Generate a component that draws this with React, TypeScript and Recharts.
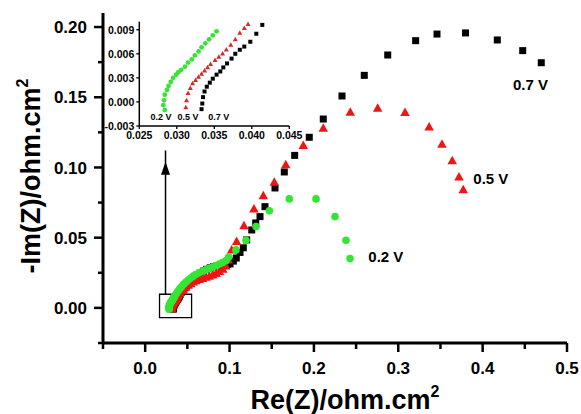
import React from "react";
import {
  Label,
  ReferenceArea,
  ReferenceDot,
  ReferenceLine,
  Scatter,
  ScatterChart,
  XAxis,
  YAxis,
} from "recharts";

const FONT = '"Liberation Sans", Arial, sans-serif';
const W = 581;
const H = 414;

// high-frequency part (shown in the inset and at the start of the main arcs)
const hf02Re = [0.0284, 0.0282, 0.0283, 0.0284, 0.0287, 0.0289, 0.0292, 0.0295, 0.0299, 0.0302, 0.0306, 0.0311, 0.0315, 0.032, 0.0324, 0.0329, 0.0333, 0.0338, 0.0343, 0.0348, 0.0353];
const hf02Im = [-0.001, -0.0004, 0.0002, 0.0009, 0.0015, 0.002, 0.0025, 0.003, 0.0034, 0.0037, 0.004, 0.0044, 0.0049, 0.0053, 0.0058, 0.0063, 0.0068, 0.0073, 0.0078, 0.0083, 0.0088];
const hf05Re = [0.0312, 0.0313, 0.0315, 0.0318, 0.0321, 0.0325, 0.0329, 0.0333, 0.0337, 0.0341, 0.0345, 0.0351, 0.0356, 0.0361, 0.0366, 0.0372, 0.0378, 0.0384, 0.039, 0.0395];
const hf05Im = [-0.0007, 0.0002, 0.0011, 0.0017, 0.0023, 0.0027, 0.0031, 0.0035, 0.0039, 0.0043, 0.0047, 0.0052, 0.0056, 0.006, 0.0065, 0.0071, 0.0078, 0.0086, 0.0092, 0.0097];
const hf07Re = [0.0333, 0.0334, 0.0335, 0.0337, 0.034, 0.0344, 0.0348, 0.0353, 0.0358, 0.0362, 0.0367, 0.0373, 0.0378, 0.0384, 0.039, 0.0398, 0.0406, 0.0414];
const hf07Im = [-0.0009, -0.0002, 0.0006, 0.0013, 0.0019, 0.0024, 0.0029, 0.0034, 0.0038, 0.0043, 0.0048, 0.0054, 0.006, 0.0065, 0.0069, 0.0075, 0.0085, 0.0096];

// rest of the spectra
const lf02Re = [0.037, 0.039, 0.041, 0.043, 0.0455, 0.048, 0.051, 0.054, 0.057, 0.06, 0.064, 0.068, 0.072, 0.076, 0.08, 0.084, 0.088, 0.092, 0.096, 0.099, 0.1076, 0.1195, 0.1314, 0.1472, 0.1708, 0.2025, 0.225, 0.238, 0.2428];
const lf02Im = [0.0103, 0.012, 0.0136, 0.0151, 0.0168, 0.0183, 0.0199, 0.0213, 0.0226, 0.0238, 0.025, 0.0261, 0.0271, 0.0281, 0.0291, 0.0301, 0.0312, 0.0324, 0.0338, 0.0362, 0.0413, 0.0481, 0.058, 0.0692, 0.0776, 0.0776, 0.065, 0.0482, 0.0351];
const lf05Re = [0.041, 0.043, 0.045, 0.048, 0.051, 0.054, 0.057, 0.06, 0.064, 0.068, 0.072, 0.076, 0.08, 0.084, 0.088, 0.092, 0.0955, 0.0985, 0.1025, 0.1084, 0.1171, 0.1289, 0.14, 0.153, 0.1666, 0.1874, 0.2111, 0.2431, 0.2756, 0.308, 0.3366, 0.3518, 0.364, 0.372, 0.377];
const lf05Im = [0.0107, 0.0119, 0.0131, 0.0146, 0.016, 0.0172, 0.0183, 0.0192, 0.0201, 0.0209, 0.0217, 0.0225, 0.0234, 0.0245, 0.0258, 0.0275, 0.0297, 0.034, 0.0412, 0.0472, 0.0585, 0.0704, 0.0797, 0.0894, 0.1018, 0.1155, 0.1279, 0.1393, 0.1421, 0.139, 0.1288, 0.1165, 0.1048, 0.0932, 0.084];
const lf07Re = [0.043, 0.045, 0.047, 0.049, 0.052, 0.055, 0.058, 0.061, 0.065, 0.069, 0.073, 0.077, 0.081, 0.085, 0.089, 0.093, 0.097, 0.1005, 0.1045, 0.108, 0.1124, 0.1163, 0.1203, 0.1263, 0.131, 0.1361, 0.142, 0.1539, 0.1649, 0.1772, 0.1945, 0.2111, 0.2333, 0.2597, 0.2875, 0.3206, 0.3459, 0.3797, 0.4174, 0.4475, 0.4695];
const lf07Im = [0.0112, 0.0128, 0.0143, 0.0158, 0.0178, 0.0197, 0.0214, 0.023, 0.0247, 0.0262, 0.0275, 0.0285, 0.0293, 0.0299, 0.0303, 0.0306, 0.0309, 0.0313, 0.0333, 0.0355, 0.0395, 0.0428, 0.0484, 0.0555, 0.0605, 0.065, 0.0721, 0.0854, 0.0968, 0.1086, 0.1215, 0.1345, 0.1509, 0.1656, 0.1801, 0.1903, 0.195, 0.1958, 0.1908, 0.1832, 0.1746];

// axes
const X_TICKS = [-0.05, 0, 0.05, 0.1, 0.15, 0.2, 0.25, 0.3, 0.35, 0.4, 0.45, 0.5];
const Y_TICKS = [-0.025, 0, 0.025, 0.05, 0.075, 0.1, 0.125, 0.15, 0.175, 0.2];
const TOP_TICKS = [-0.05, 0.005, 0.06, 0.115, 0.17, 0.225, 0.28, 0.335, 0.39, 0.445, 0.5];
const RIGHT_TICKS = [-0.025, -0.0015, 0.022, 0.0455, 0.069, 0.0925, 0.116, 0.1395, 0.163, 0.1865, 0.21];
const INSET_X_TICKS = [0.025, 0.03, 0.035, 0.04, 0.045];
const INSET_Y_TICKS = [-0.003, 0, 0.003, 0.006, 0.009];
const INSET_RIGHT_TICKS = [-0.003, -0.0004, 0.0022, 0.0048, 0.0074, 0.01];

// annotations
const seriesLabels = [
  { text: "0.7 V", x: 0.436, y: 0.1587 },
  { text: "0.5 V", x: 0.389, y: 0.0923 },
  { text: "0.2 V", x: 0.2645, y: 0.0365 },
];
const insetLabels = [
  { text: "0.2 V", x: 0.0279, y: -0.0019 },
  { text: "0.5 V", x: 0.0315, y: -0.0019 },
  { text: "0.7 V", x: 0.0356, y: -0.0018 },
];
const ZOOM_BOX = { x1: 0.017, x2: 0.055, y1: -0.007, y2: 0.0097 };
const ARROW = { x: 0.0241, from: 0.0097, to: 0.1041 };

const BLACK = "#000000";
const RED = "#f01414";
const GREEN = "#33e633";

const pts = (re: number[], im: number[]) => re.map((x, i) => ({ x, y: im[i] }));

const isMultiple = (v: number, step: number) =>
  Math.abs(v / step - Math.round(v / step)) < 1e-6;

const square = (side: number, fill: string) => (p: any) =>
  <rect x={p.cx - side / 2} y={p.cy - side / 2} width={side} height={side} fill={fill} />;
const triangle = (w: number, h: number, fill: string) => (p: any) =>
  <polygon
    points={`${p.cx},${p.cy - h * 0.6} ${p.cx + w / 2},${p.cy + h * 0.4} ${p.cx - w / 2},${p.cy + h * 0.4}`}
    fill={fill}
  />;
const dot = (r: number, fill: string) => (p: any) =>
  <circle cx={p.cx} cy={p.cy} r={r} fill={fill} />;

function LeftTick({ x, y, payload, major = 9, minor = 5, step, digits, size, gap }: any) {
  const m = isMultiple(payload.value, step);
  return (
    <g>
      <line x1={x - (m ? major : minor)} x2={x} y1={y} y2={y} stroke="#000" strokeWidth={size > 12 ? 2.5 : 1.3} />
      {m && (
        <text x={x - gap} y={y} dy="0.36em" textAnchor="end" fontFamily={FONT} fontWeight="bold" fontSize={size} fill="#000">
          {payload.value.toFixed(digits)}
        </text>
      )}
    </g>
  );
}

function BottomTick({ x, y, payload, major = 9, minor = 6, step, digits, size, gap }: any) {
  const m = isMultiple(payload.value, step);
  return (
    <g>
      <line x1={x} x2={x} y1={y} y2={y + (m ? major : minor)} stroke="#000" strokeWidth={size > 12 ? 2.5 : 1.3} />
      {m && (
        <text x={x} y={y + gap} dy="0.36em" textAnchor="middle" fontFamily={FONT} fontWeight="bold" fontSize={size} fill="#000">
          {payload.value.toFixed(digits)}
        </text>
      )}
    </g>
  );
}

function TopTick({ x, y, len, width }: any) {
  return <line x1={x} x2={x} y1={y} y2={y + len} stroke="#000" strokeWidth={width} />;
}

function RightTick({ x, y, len, width }: any) {
  return <line x1={x - len} x2={x} y1={y} y2={y} stroke="#000" strokeWidth={width} />;
}

function XTitle() {
  return (
    <text x={345} y={409} textAnchor="middle" fontFamily={FONT} fontWeight="bold" fontSize={27} fill="#000">
      Re(Z)/ohm.cm<tspan fontSize={16} dy={-12}>2</tspan>
    </text>
  );
}

function YTitle() {
  return (
    <text x={40} y={176} transform="rotate(-90 40 176)" textAnchor="middle" fontFamily={FONT} fontWeight="bold" fontSize={27} fill="#000">
      -Im(Z)/ohm.cm<tspan fontSize={16} dy={-12}>2</tspan>
    </text>
  );
}

const textShape = (text: string, size: number, anchor: "start" | "middle") => (p: any) =>
  <text x={p.cx} y={p.cy} dy="0.36em" textAnchor={anchor} fontFamily={FONT} fontWeight="bold" fontSize={size} fill="#000">
    {text}
  </text>;

const arrowHead = (p: any) =>
  <polygon points={`${p.cx},${p.cy} ${p.cx + 4.5},${p.cy + 13} ${p.cx - 4.5},${p.cy + 13}`} fill="#000" />;

const axisLine = { stroke: "#000", strokeWidth: 3 };
const thinLine = { stroke: "#000", strokeWidth: 1.5 };

export default function App() {
  return (
    <div style={{ position: "absolute", left: 0, top: 0, width: W, height: H, background: "#fff", fontFamily: FONT }}>
      <ScatterChart width={W} height={H} margin={{ top: 13, right: 14, bottom: 0, left: 0 }}>
        <XAxis
          type="number"
          dataKey="x"
          domain={[-0.05, 0.5]}
          ticks={X_TICKS}
          interval={0}
          allowDataOverflow
          height={71}
          tickSize={0}
          tickMargin={0}
          tickLine={false}
          axisLine={axisLine}
          tick={<BottomTick step={0.1} digits={1} size={17} gap={25} />}
        >
          <Label content={<XTitle />} />
        </XAxis>
        <XAxis
          xAxisId="top"
          orientation="top"
          type="number"
          domain={[-0.05, 0.5]}
          ticks={TOP_TICKS}
          interval={0}
          allowDataOverflow
          height={0}
          tickSize={0}
          tickMargin={0}
          tickLine={false}
          axisLine={axisLine}
          tick={<TopTick len={8} width={2.5} />}
        />
        <YAxis
          type="number"
          dataKey="y"
          domain={[-0.025, 0.21]}
          ticks={Y_TICKS}
          interval={0}
          allowDataOverflow
          width={103}
          tickSize={0}
          tickMargin={0}
          tickLine={false}
          axisLine={axisLine}
          tick={<LeftTick step={0.05} digits={2} size={17} gap={16} />}
        >
          <Label content={<YTitle />} />
        </YAxis>
        <YAxis
          yAxisId="right"
          orientation="right"
          type="number"
          domain={[-0.025, 0.21]}
          ticks={RIGHT_TICKS}
          interval={0}
          allowDataOverflow
          width={0}
          tickSize={0}
          tickMargin={0}
          tickLine={false}
          axisLine={axisLine}
          tick={<RightTick len={8} width={2.5} />}
        />

        <ReferenceArea {...ZOOM_BOX} fill="none" fillOpacity={0} stroke="#000" strokeWidth={1.3} />
        <ReferenceLine
          segment={[{ x: ARROW.x, y: ARROW.from }, { x: ARROW.x, y: ARROW.to + 0.008 }]}
          stroke="#000"
          strokeWidth={1.5}
        />
        <ReferenceDot x={ARROW.x} y={ARROW.to} r={0} shape={arrowHead} />

        <Scatter data={pts([...hf07Re, ...lf07Re], [...hf07Im, ...lf07Im])} shape={square(7, BLACK)} isAnimationActive={false} />
        <Scatter data={pts([...hf05Re, ...lf05Re], [...hf05Im, ...lf05Im])} shape={triangle(9.5, 8.5, RED)} isAnimationActive={false} />
        <Scatter data={pts([...hf02Re, ...lf02Re], [...hf02Im, ...lf02Im])} shape={dot(3.8, GREEN)} isAnimationActive={false} />

        {seriesLabels.map((l) => (
          <ReferenceDot key={l.text} x={l.x} y={l.y} r={0} shape={textShape(l.text, 15, "start")} />
        ))}
      </ScatterChart>

      <div style={{ position: "absolute", left: 100, top: 14 }}>
        <ScatterChart width={215} height={140} margin={{ top: 7.7, right: 25.7, bottom: 0, left: 0 }}>
          <XAxis
            type="number"
            dataKey="x"
            domain={[0.025, 0.045]}
            ticks={INSET_X_TICKS}
            interval={0}
            allowDataOverflow
            height={28}
            tickSize={0}
            tickMargin={0}
            tickLine={false}
            axisLine={thinLine}
            tick={<BottomTick step={0.005} digits={3} size={10.5} gap={9} major={3} minor={2} />}
          />
          <XAxis
            xAxisId="top"
            orientation="top"
            type="number"
            domain={[0.025, 0.045]}
            height={0}
            tick={false}
            tickLine={false}
            axisLine={thinLine}
          />
          <YAxis
            type="number"
            dataKey="y"
            domain={[-0.003, 0.01]}
            ticks={INSET_Y_TICKS}
            interval={0}
            allowDataOverflow
            width={39.3}
            tickSize={0}
            tickMargin={0}
            tickLine={false}
            axisLine={thinLine}
            tick={<LeftTick step={0.003} digits={3} size={10.5} gap={5} major={3} minor={2} />}
          />
          <YAxis
            yAxisId="right"
            orientation="right"
            type="number"
            domain={[-0.003, 0.01]}
            ticks={INSET_RIGHT_TICKS}
            interval={0}
            allowDataOverflow
            width={0}
            tickSize={0}
            tickMargin={0}
            tickLine={false}
            axisLine={thinLine}
            tick={<RightTick len={3} width={1.2} />}
          />

          <Scatter data={pts(hf07Re, hf07Im)} shape={square(4, BLACK)} isAnimationActive={false} />
          <Scatter data={pts(hf05Re, hf05Im)} shape={triangle(5, 4.5, "#d42a2a")} isAnimationActive={false} />
          <Scatter data={pts(hf02Re, hf02Im)} shape={dot(2.4, GREEN)} isAnimationActive={false} />

          {insetLabels.map((l) => (
            <ReferenceDot key={l.text} x={l.x} y={l.y} r={0} shape={textShape(l.text, 9, "middle")} />
          ))}
        </ScatterChart>
      </div>
    </div>
  );
}
